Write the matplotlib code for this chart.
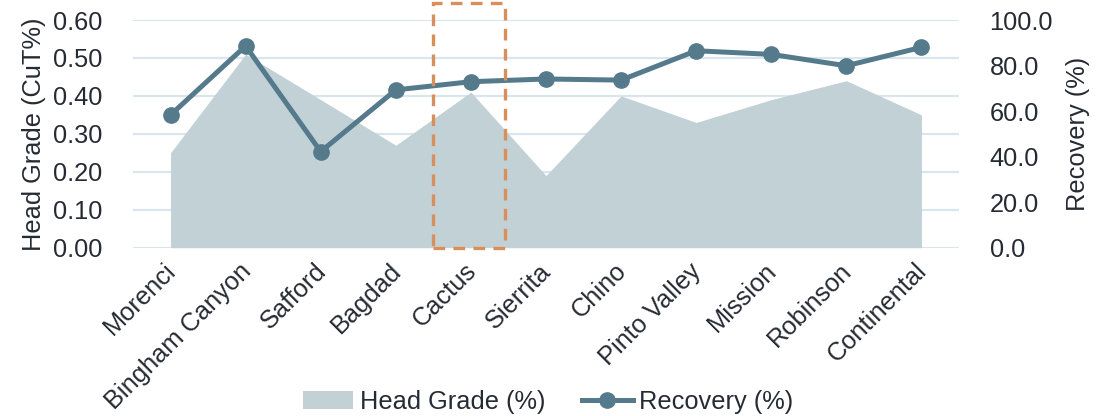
import matplotlib
matplotlib.use("Agg")
import matplotlib.pyplot as plt
from matplotlib.patches import Rectangle
from matplotlib.transforms import ScaledTranslation

categories = ["Morenci", "Bingham Canyon", "Safford", "Bagdad", "Cactus", "Sierrita",
              "Chino", "Pinto Valley", "Mission", "Robinson", "Continental"]
head_grade = [0.25, 0.51, 0.39, 0.27, 0.41, 0.19, 0.40, 0.33, 0.39, 0.44, 0.35]
recovery = [58.3, 88.6, 42.2, 69.3, 72.9, 74.1, 73.6, 86.5, 84.9, 79.9, 88.0]
left_ticks = [0.0, 0.1, 0.2, 0.3, 0.4, 0.5, 0.6]
right_ticks = [0, 20, 40, 60, 80, 100]

plt.rcParams['font.family'] = ['Liberation Sans', 'DejaVu Sans']
TXT = '#262b33'
AREA = '#c2d1d6'
LINE = '#557a8c'
GRID = '#d9e6ee'
BOX = '#d98f5c'
FS = 18.3

fig = plt.figure(figsize=(11.14, 4.16), dpi=100)
ax = fig.add_axes([133/1114, 1-247.7/416, (959-133)/1114, (247.7-20)/416])
x = list(range(len(categories)))

ax.fill_between(x, head_grade, 0, color=AREA, lw=0, label='Head Grade (%)', zorder=2)
ax.set_xlim(-0.5, len(categories)-0.5)
ax.set_ylim(0, 0.6)
ax.set_yticks(left_ticks)
ax.set_yticklabels([f"{v:.2f}" for v in left_ticks])
for y in left_ticks:
    ax.axhline(y, color=GRID, lw=1.6, zorder=1)
ax.set_xticks(x)
ax.set_xticklabels(categories, rotation=45, ha='right', rotation_mode='anchor')
ax.tick_params(axis='both', length=0, labelsize=FS, colors=TXT)
ax.tick_params(axis='y', pad=22)
ax.tick_params(axis='x', pad=8)
off = ScaledTranslation(-7/100, 0, fig.dpi_scale_trans)
for lab in ax.get_xticklabels():
    lab.set_transform(lab.get_transform() + off)
ax.set_ylabel('Head Grade (CuT%)', fontsize=FS, color=TXT, labelpad=5)
for s in ax.spines.values():
    s.set_visible(False)

ax2 = ax.twinx()
ax2.plot(x, recovery, color=LINE, lw=3.6, marker='o', ms=11, label='Recovery (%)', zorder=3)
ax2.set_ylim(0, 100)
ax2.set_yticks(right_ticks)
ax2.set_yticklabels([f"{v:.1f}" for v in right_ticks])
ax2.tick_params(axis='y', length=0, labelsize=FS, colors=TXT, pad=22)
ax2.set_ylabel('Recovery (%)', fontsize=FS, color=TXT, labelpad=9)
for s in ax2.spines.values():
    s.set_visible(False)

ax2.add_patch(Rectangle((3.5, 0), 0.95, 107.5, fill=False, edgecolor=BOX, lw=2.4,
                        linestyle=(0, (3.5, 2.5)), clip_on=False, zorder=5))

h1, l1 = ax.get_legend_handles_labels()
h2, l2 = ax2.get_legend_handles_labels()
leg = fig.legend(h1 + h2, l1 + l2, loc='center', bbox_to_anchor=(548/1114, 1-402/416),
                 ncol=2, frameon=False, fontsize=FS, handlelength=2.0, handletextpad=0.25,
                 columnspacing=1.45, labelcolor=TXT)

fig.savefig('out.png', dpi=100)
